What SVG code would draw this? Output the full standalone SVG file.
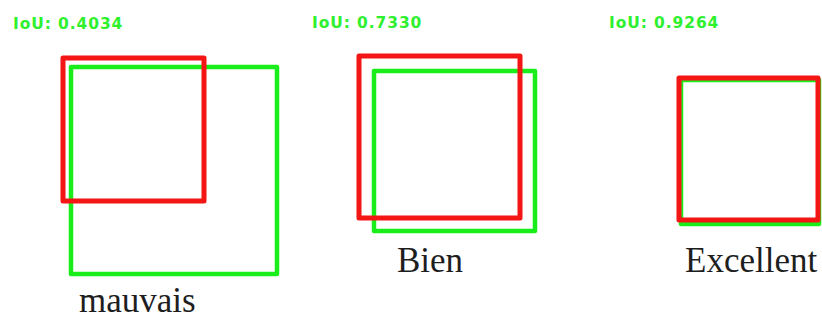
<svg xmlns="http://www.w3.org/2000/svg" width="822" height="320" viewBox="0 0 822 320">
<style>
.g{fill:none;stroke:#1aee1a;stroke-width:4.5;stroke-linejoin:round}
.r{fill:none;stroke:#f41515;stroke-width:5;stroke-linejoin:round}
.iou{font-family:"DejaVu Sans",sans-serif;font-weight:bold;font-size:15.5px;fill:#2ef02e;letter-spacing:0.9px}
.lbl{font-family:"Liberation Serif",serif;font-size:35px;fill:#1e1e1e}
</style>
<rect width="822" height="320" fill="#ffffff"/>
<g id="pair-mauvais">
<text class="iou" x="13" y="29">IoU: 0.4034</text>
<rect class="g" x="71" y="67" width="206" height="207"/>
<rect class="r" x="63" y="58" width="141" height="143"/>
<text class="lbl" x="79" y="312" font-size="34">mauvais</text>
</g>
<g id="pair-bien">
<text class="iou" x="312" y="28">IoU: 0.7330</text>
<rect class="g" x="374" y="71" width="161" height="160"/>
<rect class="r" x="359" y="56" width="161" height="162"/>
<text class="lbl" x="397" y="272">Bien</text>
</g>
<g id="pair-excellent">
<text class="iou" x="609" y="28">IoU: 0.9264</text>
<rect class="g" x="681" y="80" width="138" height="144"/>
<rect class="r" x="679" y="78" width="139" height="142"/>
<text class="lbl" x="685" y="272">Excellent</text>
</g>
</svg>
